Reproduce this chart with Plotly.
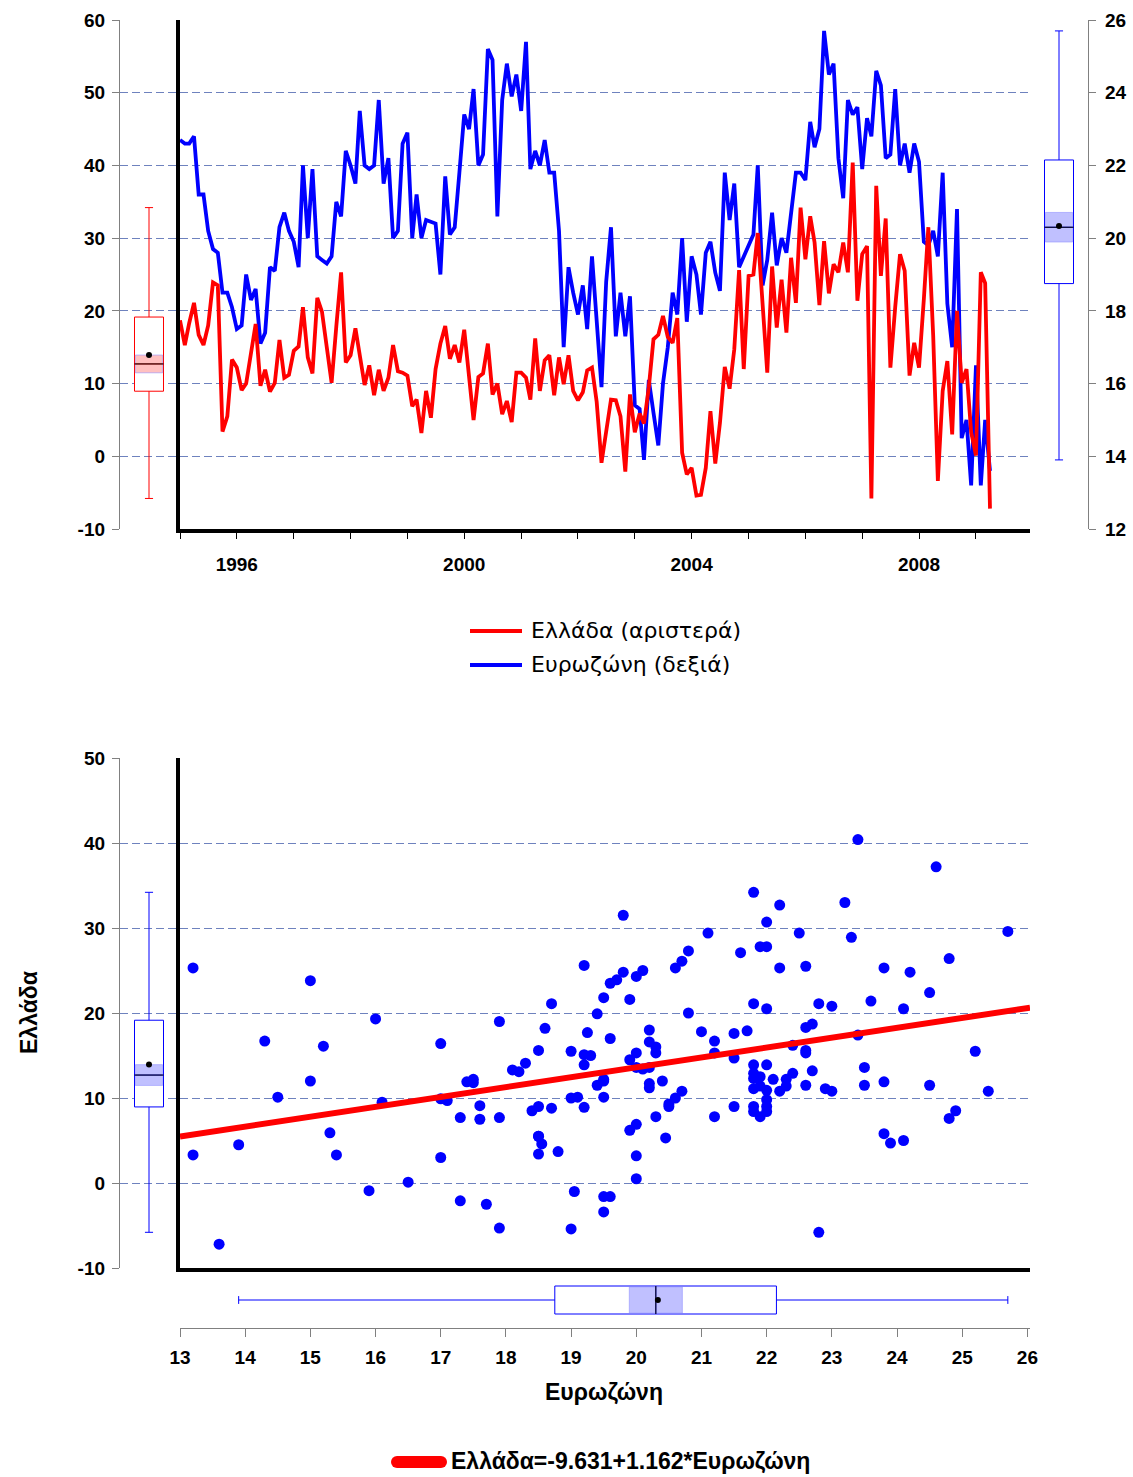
import numpy as np
import pandas as pd
import plotly.graph_objects as go

# ---------------- data ----------------
start_month = "1995-01-01"

greece = [
    18.7, 15.3, 18.3, 21.1, 16.7, 15.3, 18.0, 23.9, 23.5, 3.4, 5.5, 13.3,
    12.2, 9.1, 10.0, 14.1, 18.2, 9.7, 11.9, 8.9, 10.1, 16.0, 10.8, 11.2,
    14.5, 15.1, 20.5, 13.6, 11.4, 21.8, 19.9, 15.0, 10.1, 17.8, 25.3, 12.9,
    13.9, 17.6, 13.6, 9.8, 12.5, 8.4, 11.9, 9.0, 10.8, 15.3, 11.7, 11.5,
    11.1, 6.9, 7.8, 3.2, 9.0, 5.3, 12.0, 15.5, 17.9, 13.4, 15.3, 12.9,
    17.4, 10.8, 5.0, 10.9, 11.4, 15.5, 8.5, 10.0, 5.8, 7.6, 4.7, 11.5,
    11.5, 10.8, 7.8, 16.2, 9.0, 13.2, 13.9, 8.4, 13.6, 9.9, 13.9, 9.0,
    7.7, 8.8, 11.8, 12.2, 7.5, -0.9, 3.7, 7.8, 7.7, 5.5, -2.1, 8.5,
    3.3, 5.9, 4.5, 9.5, 16.1, 16.7, 19.3, 16.4, 15.6, 19.0, 0.5, -2.5,
    -1.6, -5.4, -5.3, -1.6, 6.2, -1.0, 4.6, 12.3, 9.3, 14.7, 25.6, 12.0,
    24.8, 25.0, 30.7, 21.1, 11.5, 26.1, 17.7, 24.3, 17.0, 27.3, 21.1, 34.2,
    27.1, 33.0, 29.4, 20.8, 29.6, 22.4, 26.4, 25.3, 29.4, 25.3, 40.4, 21.4,
    27.8, 28.9, -5.8, 37.2, 24.8, 32.7, 12.2, 20.5, 27.8, 25.5, 11.1, 15.6,
    12.2, 21.6, 31.5, 16.6, -3.4, 9.0, 13.1, 3.0, 20.0, 10.1, 12.0, 3.3,
    0.1, 25.3, 23.8, -7.2,
]

eurozone = [
    22.7, 22.6, 22.6, 22.8, 21.2, 21.2, 20.2, 19.7, 19.6, 18.5, 18.5, 18.1,
    17.5, 17.6, 19.0, 18.3, 18.6, 17.1, 17.4, 19.2, 19.1, 20.3, 20.7, 20.2,
    19.9, 19.2, 22.0, 20.0, 21.9, 19.5, 19.4, 19.3, 19.5, 21.0, 20.6, 22.4,
    22.0, 21.5, 23.5, 22.0, 21.9, 22.0, 23.8, 21.5, 22.2, 20.0, 20.2, 22.6,
    22.9, 20.0, 21.2, 20.0, 20.5, 20.45, 20.4, 19.0, 21.7, 20.1, 20.3, 21.8,
    23.4, 23.0, 24.1, 22.0, 22.3, 25.2, 24.9, 20.6, 23.8, 24.8, 23.9, 24.5,
    23.5, 25.4, 21.9, 22.4, 22.0, 22.7, 21.8, 21.8, 20.2, 17.0, 19.2, 18.5,
    17.9, 18.7, 17.5, 19.5, 17.6, 15.9, 18.8, 20.3, 17.3, 18.5, 17.3, 18.4,
    15.4, 15.3, 13.9, 16.1, 15.2, 14.3, 16.0, 17.0, 18.5, 17.9, 20.0, 17.7,
    19.5, 19.0, 17.9, 19.6, 19.9, 19.05, 18.55, 21.8, 20.5, 21.5, 19.2, 19.5,
    19.8, 20.1, 22.0, 18.7, 19.4, 20.7, 19.25, 20.0, 19.6, 20.8, 21.8, 21.8,
    21.6, 23.2, 22.5, 23.0, 25.7, 24.5, 24.8, 22.2, 21.1, 23.8, 23.4, 23.6,
    21.9, 23.3, 22.8, 24.6, 24.2, 22.2, 22.3, 24.1, 22.0, 22.6, 21.8, 22.6,
    22.1, 19.9, 19.8, 20.2, 19.5, 21.8, 18.2, 17.0, 20.8, 14.5, 15.0, 13.2,
    16.5, 13.2, 15.0, 13.6,
]

year_ticks = list(range(1995, 2010))
year_labels = ["1996", "2000", "2004", "2008"]
scatter_x_ticks = list(range(13, 27))
top_left_ticks = [-10, 0, 10, 20, 30, 40, 50, 60]
top_right_ticks = [12, 14, 16, 18, 20, 22, 24, 26]
bottom_left_ticks = [-10, 0, 10, 20, 30, 40, 50]

reg_intercept = -9.631
reg_slope = 1.162

name_gr_top = "Ελλάδα (αριστερά)"
name_ez_top = "Ευρωζώνη (δεξιά)"
name_gr = "Ελλάδα"
name_ez = "Ευρωζώνη"
reg_label = "Ελλάδα=-9.631+1.162*Ευρωζώνη"

# ---------------- helpers ----------------
W, H = 1133, 1477
def PX(x):
    return x / W
def PY(y):
    return 1 - y / H

FONT = "Liberation Sans, Arial, sans-serif"
LEGFONT = "DejaVu Sans, Liberation Sans, sans-serif"
RED = "#ff0000"
BLUE = "#0000ff"
GRID = "#6e82be"
AXGREY = "#808080"

dates = pd.date_range(start_month, periods=len(greece), freq="MS")
gr = np.array(greece)
ez = np.array(eurozone)


def box_stats(v):
    v = np.asarray(v, dtype=float)
    q1, med, q3 = np.percentile(v, [25, 50, 75], method="hazen")
    iqr = q3 - q1
    lf = v[v >= q1 - 1.5 * iqr].min()
    uf = v[v <= q3 + 1.5 * iqr].max()
    ci = 1.57 * iqr / np.sqrt(len(v))
    return dict(q1=q1, med=med, q3=q3, lf=lf, uf=uf, mean=v.mean(),
                lo=med - ci, hi=med + ci)


def add_box(fig, st, color, band, xa, ya, horizontal=False):
    common = dict(xaxis=xa, yaxis=ya, showlegend=False, hoverinfo="skip")
    edge = dict(color="rgba(140,140,255,0.55)", width=1)
    if not horizontal:
        fig.add_trace(go.Box(x=[0], q1=[st["q1"]], median=[st["med"]], q3=[st["q3"]],
                             lowerfence=[st["lf"]], upperfence=[st["uf"]],
                             width=1.0, whiskerwidth=0.28, fillcolor="white",
                             line=dict(color=color, width=1), boxpoints=False, **common))
        fig.add_trace(go.Scatter(x=[-0.47, 0.47, 0.47, -0.47, -0.47],
                                 y=[st["lo"], st["lo"], st["hi"], st["hi"], st["lo"]],
                                 fill="toself", fillcolor=band, mode="lines",
                                 line=edge, **common))
        fig.add_trace(go.Scatter(x=[-0.5, 0.5], y=[st["med"], st["med"]], mode="lines",
                                 line=dict(color="black", width=1), **common))
        fig.add_trace(go.Scatter(x=[0], y=[st["mean"]], mode="markers",
                                 marker=dict(color="black", size=6), **common))
    else:
        fig.add_trace(go.Box(y=[0], q1=[st["q1"]], median=[st["med"]], q3=[st["q3"]],
                             lowerfence=[st["lf"]], upperfence=[st["uf"]], orientation="h",
                             width=1.0, whiskerwidth=0.28, fillcolor="white",
                             line=dict(color=color, width=1), boxpoints=False, **common))
        fig.add_trace(go.Scatter(y=[-0.47, -0.47, 0.47, 0.47, -0.47],
                                 x=[st["lo"], st["hi"], st["hi"], st["lo"], st["lo"]],
                                 fill="toself", fillcolor=band, mode="lines",
                                 line=edge, **common))
        fig.add_trace(go.Scatter(y=[-0.5, 0.5], x=[st["med"], st["med"]], mode="lines",
                                 line=dict(color="black", width=1), **common))
        fig.add_trace(go.Scatter(y=[0], x=[st["mean"]], mode="markers",
                                 marker=dict(color="black", size=6), **common))


st_gr = box_stats(gr)
st_ez = box_stats(ez)

fig = go.Figure()

# ---------------- top chart ----------------
fig.add_trace(go.Scatter(x=dates, y=ez, mode="lines", line=dict(color=BLUE, width=3.8),
                         xaxis="x", yaxis="y", showlegend=False, name=name_ez_top))
fig.add_trace(go.Scatter(x=dates, y=gr, mode="lines", line=dict(color=RED, width=3.8),
                         xaxis="x", yaxis="y2", showlegend=False, name=name_gr_top))
add_box(fig, st_gr, RED, "rgba(255,60,60,0.32)", "x2", "y3")
add_box(fig, st_ez, BLUE, "rgba(60,60,255,0.32)", "x3", "y4")

# ---------------- bottom chart ----------------
fig.add_trace(go.Scatter(x=ez, y=gr, mode="markers", marker=dict(color=BLUE, size=11),
                         xaxis="x4", yaxis="y5", showlegend=False, name="scatter"))
reg_x = np.array([13.0, 26.04])
fig.add_trace(go.Scatter(x=reg_x, y=reg_intercept + reg_slope * reg_x, mode="lines",
                         line=dict(color=RED, width=6), xaxis="x4", yaxis="y5",
                         showlegend=False, name=reg_label))
add_box(fig, st_gr, BLUE, "rgba(60,60,255,0.32)", "x5", "y6")
add_box(fig, st_ez, BLUE, "rgba(60,60,255,0.32)", "x6", "y7", horizontal=True)

tickfont = dict(family=FONT, size=19, color="black", weight="bold")
gridkw = dict(showgrid=True, gridcolor=GRID, griddash="8px,4px", gridwidth=1)
hidden = dict(visible=False, fixedrange=True, automargin=False)
noam = dict(automargin=False)


def ticks_of(vals):
    return dict(tickmode="array", tickvals=vals, ticktext=[str(v) for v in vals])


top_dom = [PY(529), PY(20)]
bot_dom = [PY(1268), PY(758)]

fig.update_layout(
    width=W, height=H, autosize=False,
    margin=dict(l=0, r=0, t=0, b=0, pad=0, autoexpand=False),
    paper_bgcolor="white", plot_bgcolor="rgba(0,0,0,0)",
    showlegend=False,
    font=dict(family=FONT, color="black"),
    # top main time axis
    xaxis=dict(domain=[PX(180), PX(1030)], anchor="y", type="date",
               range=["1995-01-01", "2009-12-14"],
               tickmode="array",
               tickvals=[f"{y}-01-01" for y in year_ticks],
               ticktext=[str(y) if str(y) in year_labels else "" for y in year_ticks],
               ticks="outside", ticklen=6, tickcolor="black", tickwidth=1,
               showline=True, linewidth=4, linecolor="black", showgrid=False,
               tickfont=tickfont, ticklabelstandoff=9, zeroline=False, **noam),
    yaxis=dict(domain=top_dom, anchor="x", range=[12, 26], showgrid=False,
               showticklabels=False, ticks="", showline=True, linewidth=4,
               linecolor="black", zeroline=False, **noam),
    yaxis2=dict(domain=top_dom, anchor="x", overlaying="y", range=[-10, 60],
                showticklabels=False, ticks="", showline=False,
                zeroline=False, **ticks_of(top_left_ticks), **gridkw, **noam),
    xaxis2=dict(domain=[PX(120), PX(178)], anchor="y3", range=[-1, 1], **hidden),
    yaxis3=dict(domain=top_dom, anchor="x2", side="left", range=[-10, 60],
                ticks="outside", ticklen=7, tickcolor=AXGREY, tickwidth=1.3,
                showline=True, linecolor=AXGREY, linewidth=1.3, zeroline=False,
                tickfont=tickfont, ticklabelstandoff=3,
                **ticks_of(top_left_ticks), **gridkw, **noam),
    xaxis3=dict(domain=[PX(1030), PX(1088)], anchor="y4", range=[-1, 1], **hidden),
    yaxis4=dict(domain=top_dom, anchor="x3", side="right", range=[12, 26],
                ticks="outside", ticklen=7, tickcolor=AXGREY, tickwidth=1.3,
                showline=True, linecolor=AXGREY, linewidth=1.3, zeroline=False,
                showgrid=False, tickfont=tickfont, ticklabelstandoff=5,
                **ticks_of(top_right_ticks), **noam),
    # bottom scatter
    xaxis4=dict(domain=[PX(180), PX(1030)], anchor="y5", range=[13, 26.04],
                showticklabels=False, ticks="", showline=True, linewidth=4,
                linecolor="black", showgrid=False, zeroline=False, **noam),
    yaxis5=dict(domain=bot_dom, anchor="x4", range=[-10, 50],
                showticklabels=False, ticks="", showline=True, linewidth=4,
                linecolor="black", zeroline=False,
                **ticks_of(bottom_left_ticks), **gridkw, **noam),
    xaxis5=dict(domain=[PX(120), PX(178)], anchor="y6", range=[-1, 1], **hidden),
    yaxis6=dict(domain=bot_dom, anchor="x5", side="left", range=[-10, 50],
                ticks="outside", ticklen=7, tickcolor=AXGREY, tickwidth=1.3,
                showline=True, linecolor=AXGREY, linewidth=1.3, zeroline=False,
                tickfont=tickfont, ticklabelstandoff=3,
                **ticks_of(bottom_left_ticks), **gridkw, **noam),
    xaxis6=dict(domain=[PX(180), PX(1030)], anchor="y7", range=[13, 26.04],
                ticks="outside", ticklen=8, tickcolor=AXGREY, tickwidth=1.3,
                showline=True, linecolor=AXGREY, linewidth=1.3, showgrid=False,
                zeroline=False, tickfont=tickfont, ticklabelstandoff=4,
                **ticks_of(scatter_x_ticks), **noam),
    yaxis7=dict(domain=[PY(1328), PY(1272)], anchor="x6", range=[-1, 1], **hidden),
)

# legends and axis titles (drawn as text + line samples)
fig.add_shape(type="line", xref="paper", yref="paper", x0=PX(470), x1=PX(522),
              y0=PY(631), y1=PY(631), line=dict(color=RED, width=4))
fig.add_shape(type="line", xref="paper", yref="paper", x0=PX(470), x1=PX(522),
              y0=PY(665), y1=PY(665), line=dict(color=BLUE, width=4))
fig.add_shape(type="line", xref="paper", yref="paper", x0=PX(397), x1=PX(441),
              y0=PY(1462), y1=PY(1462), line=dict(color=RED, width=12))
for cx in (397, 441):
    fig.add_shape(type="circle", xref="paper", yref="paper", x0=PX(cx - 6), x1=PX(cx + 6),
                  y0=PY(1468), y1=PY(1456), fillcolor=RED, line=dict(width=0))

leg_font = dict(family=LEGFONT, size=22, color="black")
bold23 = dict(family=FONT, size=23, color="black", weight="bold")
fig.add_annotation(text=name_gr_top, x=PX(529), y=PY(630), xref="paper", yref="paper",
                   xanchor="left", yanchor="middle", showarrow=False, font=leg_font)
fig.add_annotation(text=name_ez_top, x=PX(529), y=PY(664), xref="paper", yref="paper",
                   xanchor="left", yanchor="middle", showarrow=False, font=leg_font)
fig.add_annotation(text=name_gr, x=PX(29), y=PY(1013), xref="paper", yref="paper",
                   xanchor="center", yanchor="middle", textangle=-90, showarrow=False,
                   font=bold23)
fig.add_annotation(text=name_ez, x=PX(604), y=PY(1392), xref="paper", yref="paper",
                   xanchor="center", yanchor="middle", showarrow=False, font=bold23)
fig.add_annotation(text=reg_label, x=PX(449), y=PY(1461), xref="paper", yref="paper",
                   xanchor="left", yanchor="middle", showarrow=False, font=bold23)

fig.write_html(
    "out.html",
    config={"displayModeBar": False},
    post_script=("document.documentElement.style.margin='0';"
                 "document.body.style.margin='0';document.body.style.padding='0';"
                 "document.documentElement.style.overflow='hidden';"),
)
